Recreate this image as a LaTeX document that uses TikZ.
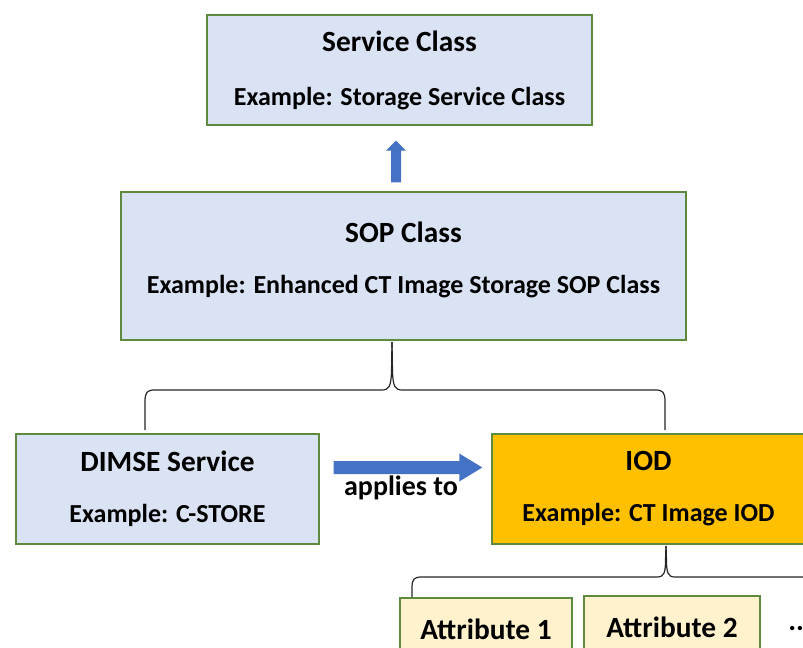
\documentclass[tikz,border=0pt]{standalone}
\usepackage{fontspec}
\setmainfont{Carlito}
\usetikzlibrary{calc}
\definecolor{boxblue}{HTML}{DAE3F3}
\definecolor{boxedge}{HTML}{5E8A3E}
\definecolor{iodgold}{HTML}{FFC000}
\definecolor{attrcream}{HTML}{FFF2CC}
\definecolor{arrowblue}{HTML}{4472C4}
\newcommand{\boxtitle}[1]{{\fontsize{22}{24}\selectfont #1}}
\tikzset{
  boxtext/.style={align=center, inner sep=0pt, font=\bfseries\fontsize{19.5}{24}\selectfont},
  box/.style={boxtext, draw=boxedge, line width=1.1pt, fill=boxblue},
  attr/.style={box, fill=attrcream, font=\bfseries\fontsize{22}{24}\selectfont},
  brace/.style={draw=black!85, line width=0.9pt},
  blockarrow/.style={fill=arrowblue, draw=none}
}
\begin{document}
\begin{tikzpicture}[x=0.75pt,y=-0.75pt]
\useasboundingbox (0,0) rectangle (803,648);
\clip (0,0) rectangle (803,648);

% boxes
\node[box, minimum width=0.75*385pt, minimum height=0.75*110pt] (svc) at (399.5,70)
  {\boxtitle{Service Class}\\[16.5pt]Example: Storage Service Class};
\node[box, minimum width=0.75*565pt, minimum height=0.75*148pt] (sop) at (403.5,266) {};
\node[boxtext] (soptext) at (403.5,260)
  {\boxtitle{SOP Class}\\[14.25pt]Example: Enhanced CT Image Storage SOP Class};
\node[box, minimum width=0.75*303pt, minimum height=0.75*110pt] (dimse) at (167.5,489)
  {\boxtitle{DIMSE Service}\\[14.25pt]Example: C-STORE};
\node[box, fill=iodgold, minimum width=0.75*313pt, minimum height=0.75*110pt] (iod) at (648.5,489)
  {\boxtitle{IOD}\\[14.25pt]Example: CT Image IOD};
\node[attr, minimum width=0.75*172pt, minimum height=0.75*62pt] (a1) at (486,629) {Attribute 1};
\node[attr, minimum width=0.75*176pt, minimum height=0.75*62pt] (a2) at (672,627) {Attribute 2};
\node[font=\bfseries\fontsize{22}{24}\selectfont, inner sep=0pt, anchor=west] (more) at (788,629) {..};

% up arrow from SOP Class to Service Class
\coordinate (upbase) at ($(sop.north)+(-7.5,-9)$);
\coordinate (uptip) at ($(svc.south)+(-3.5,15)$);
\fill[blockarrow] ($(upbase)+(-5,0)$) -- ($(uptip)+(-5,10)$) -- ($(uptip)+(-10,10)$)
  -- (uptip) -- ($(uptip)+(10,10)$) -- ($(uptip)+(5,10)$) -- ($(upbase)+(5,0)$) -- cycle;

% "applies to" arrow from DIMSE Service to IOD
\coordinate (rbase) at ($(dimse.east)+(14,-21.5)$);
\coordinate (rtip) at ($(iod.west)+(-9,-21.5)$);
\fill[blockarrow] ($(rbase)+(0,-6.5)$) -- ($(rtip)+(-23,-6.5)$) -- ($(rtip)+(-23,-14)$)
  -- (rtip) -- ($(rtip)+(-23,14)$) -- ($(rtip)+(-23,6.5)$) -- ($(rbase)+(0,6.5)$) -- cycle;
\node[font=\bfseries\fontsize{21}{24}\selectfont, inner sep=0pt] (applies) at (401,488) {applies to};

% brace from SOP Class to DIMSE Service and IOD
\coordinate (b1l) at (145,430);
\coordinate (b1r) at (665,430);
\coordinate (b1t) at (392,342);
\draw[brace] (b1l) -- (145,402) .. controls (145,392) and (147,390) .. (155,390)
  -- (382,390) .. controls (389,390) and (391,386) .. (391.5,372) -- (b1t);
\draw[brace] (b1r) -- (665,402) .. controls (665,392) and (663,390) .. (655,390)
  -- (402,390) .. controls (395,390) and (393,386) .. (392.5,372) -- (b1t);

% brace from IOD to its attributes
\coordinate (b2l) at (412,597);
\coordinate (b2t) at (666,546);
\draw[brace] (b2l) -- (412,588) .. controls (412,579) and (414,577) .. (422,577)
  -- (657,577) .. controls (664,577) and (665.5,573) .. (665.5,560) -- (b2t);
\draw[brace] (830,577) -- (675,577) .. controls (668,577) and (666.5,573) .. (666.5,560) -- (b2t);
\end{tikzpicture}
\end{document}
